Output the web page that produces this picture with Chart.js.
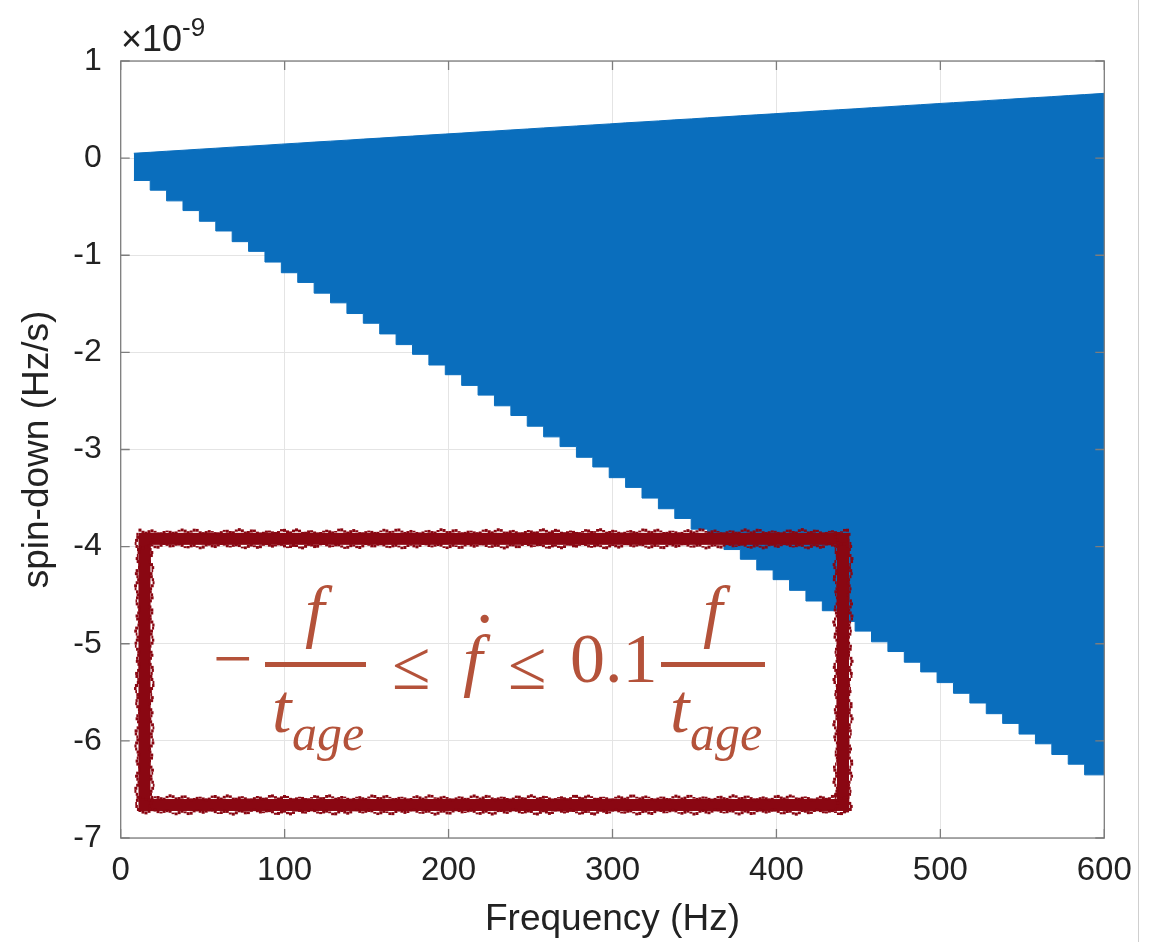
<!DOCTYPE html>
<html><head><meta charset="utf-8">
<script src="https://cdn.jsdelivr.net/npm/chart.js@4.4.0/dist/chart.umd.min.js"></script>
<style>
html,body{margin:0;padding:0;background:#fff;}
#wrap{position:relative;width:1160px;height:942px;overflow:hidden;background:#fff;}
#c{position:absolute;left:0;top:0;}
.ov{position:absolute;white-space:nowrap;line-height:1;}
.sans{font-family:"Liberation Sans",Arial,sans-serif;color:#222;}
.m{font-family:"Liberation Serif","Times New Roman",serif;color:#b4523a;font-size:70px;}
.it{font-style:italic;}
.sub{font-size:50px;}
.bar{position:absolute;height:5px;background:#b4523a;}
</style></head><body>
<div id="wrap">
<canvas id="c" width="1160" height="942"></canvas>
<div class="ov sans" style="left:121px;top:21px;font-size:36px;">×10<span style="font-size:26px;position:relative;top:-15px;">-9</span></div>

<span class="ov m" style="left:213px;top:624px;">−</span>
<span class="ov m it" style="left:305px;top:576px;">f</span>
<div class="bar" style="left:265px;top:662px;width:101px;"></div>
<span class="ov m it" style="left:272px;top:674px;">t</span>
<span class="ov m it sub" style="left:292px;top:708px;">age</span>

<span class="ov m" style="left:392px;top:631px;">≤</span>
<span class="ov m it" style="left:463px;top:625px;">f</span>
<span class="ov m" style="left:473px;top:584px;">·</span>
<span class="ov m" style="left:508px;top:631px;">≤</span>
<span class="ov m" style="left:570px;top:624px;">0.1</span>

<span class="ov m it" style="left:703px;top:576px;">f</span>
<div class="bar" style="left:661px;top:662px;width:104px;"></div>
<span class="ov m it" style="left:670px;top:674px;">t</span>
<span class="ov m it sub" style="left:690px;top:708px;">age</span>

<div style="position:absolute;left:1138px;top:0;width:1px;height:942px;background:#cfcfcf"></div>
</div>
<script>
// Frequency (Hz) at the start of each plotted step
const frequency = [8,18,28,38,48,58,68,78,88,98,108,118,128,138,148,158,168,178,188,198,
  208,218,228,238,248,258,268,278,288,298,308,318,328,338,348,358,368,378,388,398,
  408,418,428,438,448,458,468,478,488,498,508,518,528,538,548,558,568,578,588,600];
// upper edge of the allowed spin-down region (x1e-9 Hz/s)
const upperBound = [0.050,0.060,0.071,0.081,0.092,0.102,0.113,0.123,0.133,0.144,
  0.154,0.165,0.175,0.185,0.196,0.206,0.217,0.227,0.238,0.248,
  0.258,0.269,0.279,0.290,0.300,0.311,0.321,0.331,0.342,0.352,
  0.363,0.373,0.383,0.394,0.404,0.415,0.425,0.436,0.446,0.456,
  0.467,0.477,0.488,0.498,0.508,0.519,0.529,0.540,0.550,0.561,
  0.571,0.581,0.592,0.602,0.613,0.623,0.633,0.644,0.654,0.667];
// lower (stepped) edge of the allowed spin-down region (x1e-9 Hz/s)
const lowerBound = [-0.23,-0.33,-0.44,-0.54,-0.65,-0.75,-0.86,-0.96,-1.07,-1.18,
  -1.28,-1.39,-1.49,-1.60,-1.70,-1.81,-1.92,-2.02,-2.13,-2.23,
  -2.34,-2.44,-2.55,-2.65,-2.76,-2.87,-2.97,-3.08,-3.18,-3.29,
  -3.39,-3.50,-3.61,-3.71,-3.82,-3.92,-4.03,-4.13,-4.24,-4.34,
  -4.45,-4.56,-4.66,-4.77,-4.87,-4.98,-5.08,-5.19,-5.29,-5.40,
  -5.51,-5.61,-5.72,-5.82,-5.93,-6.03,-6.14,-6.24,-6.35,-6.35];
const xTicks = [0,100,200,300,400,500,600];
const yTicks = [-7,-6,-5,-4,-3,-2,-1,0,1];
// annotation box (data units): left/right Hz, top/bottom spin-down
const noteBox = {left:14.5, right:440.6, top:-3.92, bottom:-6.66};

const BLUE = '#0a6ebd';
const upperPts = frequency.map((f,i)=>({x:f,y:upperBound[i]}));
const lowerPts = frequency.map((f,i)=>({x:f,y:lowerBound[i]}));

const framePlugin = {
  id:'frame',
  afterDatasetsDraw(chart){
    const {ctx, chartArea:a, scales:{x,y}} = chart;
    ctx.save();
    ctx.strokeStyle = '#7d7d7d'; ctx.lineWidth = 1.3;
    ctx.strokeRect(a.left, a.top, a.right-a.left, a.bottom-a.top);
    const L = 9;
    ctx.beginPath();
    xTicks.forEach(v=>{const p=x.getPixelForValue(v);
      ctx.moveTo(p,a.bottom); ctx.lineTo(p,a.bottom-L);
      ctx.moveTo(p,a.top); ctx.lineTo(p,a.top+L);});
    yTicks.forEach(v=>{const p=y.getPixelForValue(v);
      ctx.moveTo(a.left,p); ctx.lineTo(a.left+L,p);
      ctx.moveTo(a.right,p); ctx.lineTo(a.right-L,p);});
    ctx.stroke();
    ctx.restore();
  },
  afterDraw(chart){
    const {ctx, scales:{x,y}} = chart;
    const l = x.getPixelForValue(noteBox.left), r = x.getPixelForValue(noteBox.right);
    const t = y.getPixelForValue(noteBox.top), b = y.getPixelForValue(noteBox.bottom);
    ctx.save();
    ctx.strokeStyle = '#8a0712';
    ctx.lineWidth = 12;
    ctx.strokeRect(l, t, r-l, b-t);
    // ragged hand-drawn edges
    ctx.lineCap = 'butt';
    const edge = (x0,y0,x1,y1,ph)=>{
      const len = Math.hypot(x1-x0,y1-y0), n = Math.floor(len/3);
      const nx = -(y1-y0)/len, ny = (x1-x0)/len;
      for(let k=0;k<n;k++){
        const s0=k/n, s1=(k+1)/n;
        [1,-1].forEach((sg,j)=>{
          const o = 7 + 1.3*Math.sin(k*1.31+ph+j*2.1) + 0.9*Math.sin(k*0.37+ph*3+j);
          ctx.lineWidth = 1.5 + 1.6*Math.abs(Math.sin(k*2.3+ph+j));
          ctx.beginPath();
          ctx.moveTo(x0+(x1-x0)*s0+sg*nx*o, y0+(y1-y0)*s0+sg*ny*o);
          ctx.lineTo(x0+(x1-x0)*s1+sg*nx*o, y0+(y1-y0)*s1+sg*ny*o);
          ctx.stroke();
        });
      }
    };
    edge(l-6,t,r+6,t,0.3); edge(r,t-6,r,b+6,1.1); edge(r+6,b,l-6,b,2.2); edge(l,b+6,l,t-6,3.7);
    ctx.restore();
  }
};

const FONT = '"Liberation Sans", Arial, sans-serif';
new Chart(document.getElementById('c'), {
  type:'line',
  data:{datasets:[
    {data:upperPts, fill:'+1', backgroundColor:BLUE, borderColor:BLUE, borderWidth:1, pointRadius:0, tension:0},
    {data:lowerPts, stepped:'before', fill:false, backgroundColor:BLUE, borderColor:BLUE, borderWidth:1, pointRadius:0}
  ]},
  options:{
    responsive:false, animation:false, devicePixelRatio:1,
    layout:{padding:{top:61,right:55.7,left:0,bottom:0}},
    plugins:{legend:{display:false},tooltip:{enabled:false}},
    scales:{
      x:{type:'linear',min:0,max:600,
        afterBuildTicks:s=>{s.ticks = xTicks.map(v=>({value:v}));},
        afterFit:s=>{s.height = 104;},
        ticks:{color:'#222',font:{family:FONT,size:33},padding:13,maxRotation:0,autoSkip:false},
        grid:{color:'#e4e4e4',drawTicks:false},
        border:{display:false},
        title:{display:true,text:'Frequency (Hz)',color:'#222',font:{family:FONT,size:37},padding:{top:0,bottom:0}}
      },
      y:{type:'linear',min:-7,max:1,
        afterBuildTicks:s=>{s.ticks = yTicks.map(v=>({value:v}));},
        afterFit:s=>{s.width = 120.7;},
        ticks:{color:'#222',font:{family:FONT,size:32},padding:19,autoSkip:false},
        grid:{color:'#e4e4e4',drawTicks:false},
        border:{display:false},
        title:{display:true,text:'spin-down (Hz/s)',color:'#222',font:{family:FONT,size:37},padding:{top:16,bottom:16}}
      }
    }
  },
  plugins:[framePlugin]
});
</script>
</body></html>
